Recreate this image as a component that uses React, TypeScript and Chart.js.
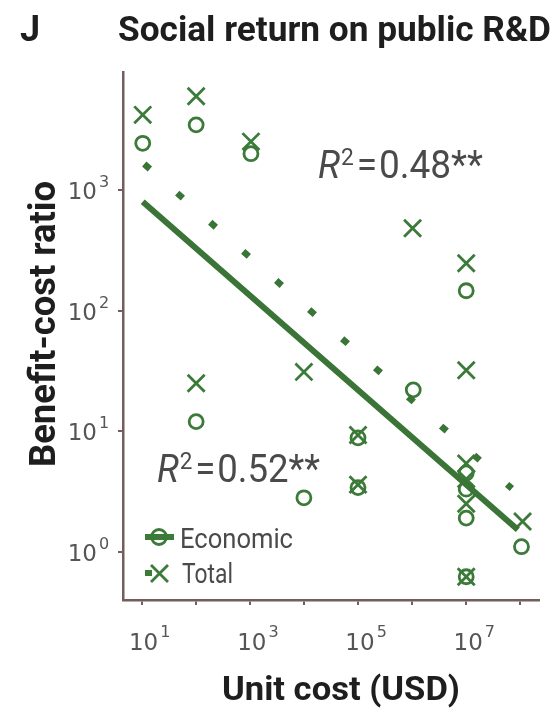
import React, { useEffect, useRef } from 'react';
import { Chart, registerables } from 'chart.js';

Chart.register(...registerables);

// ---- data ----
const economicX = [10.5, 102, 1050, 102, 1e4, 1e5, 1e5, 1.05e6, 1e7, 1e7, 1e7, 1e7, 1e7, 1.05e8];
const economicY = [2440, 3470, 2000, 12, 2.8, 8.8, 3.4, 22, 146, 4.5, 3.3, 1.9, 0.62, 1.1];
const totalX = [10.5, 102, 1050, 102, 1e4, 1e5, 1e5, 1.02e6, 1e7, 1e7, 1e7, 1e7, 1e7, 1e7, 1.1e8];
const totalY = [4200, 6000, 2520, 25, 31, 9.3, 3.6, 481, 247, 32, 5.4, 4.0, 2.5, 0.62, 1.78];
const economicFitX = [10.5, 9.0e7];
const economicFitY = [800, 1.52];
const totalFitX = [11.2, 6.98e7];
const totalFitY = [1643, 3.34];

const xTickExponents = [1, 2, 3, 4, 5, 6, 7, 8];
const xLabelExponents = [1, 3, 5, 7];
const yTickExponents = [0, 1, 2, 3];
const yLabelExponents = [0, 1, 2, 3];

const titleLetter = 'J';
const titleText = 'Social return on public R&D';
const xTitle = 'Unit cost (USD)';
const yTitle = 'Benefit-cost ratio';
const legendLabels = ['Economic', 'Total'];
const r2Total = '0.48';
const r2Economic = '0.52';

// ---- styling ----
const GREEN = '#3b7a38';
const LINE = '#3a7436';
const AXIS = '#735d5d';
const TICKTXT = '#555555';
const TXT = '#4a4a4a';

const X_MIN = Math.pow(10, 0.6564);
const X_MAX = Math.pow(10, 8.349);
const Y_MIN = Math.pow(10, -0.4006);
const Y_MAX = Math.pow(10, 3.9787);

type Run = { text: string; font: string; dy?: number; gap?: number };

function drawRuns(ctx: CanvasRenderingContext2D, runs: Run[], x: number, baseline: number, targetWidth?: number) {
  let total = 0;
  const widths: number[] = [];
  for (const r of runs) {
    ctx.font = r.font;
    const w = ctx.measureText(r.text).width;
    widths.push(w);
    total += w + (r.gap || 0);
  }
  const sx = targetWidth ? targetWidth / total : 1;
  ctx.save();
  ctx.translate(x, baseline);
  ctx.scale(sx, 1);
  ctx.textAlign = 'left';
  ctx.textBaseline = 'alphabetic';
  let cx = 0;
  runs.forEach((r, i) => {
    ctx.font = r.font;
    ctx.fillText(r.text, cx, r.dy || 0);
    cx += widths[i] + (r.gap || 0);
  });
  ctx.restore();
}

const annotations = {
  id: 'annotations',
  afterDraw(chart: any) {
    const ctx: CanvasRenderingContext2D = chart.ctx;
    const xs = chart.scales.x;
    const ys = chart.scales.y;
    const area = chart.chartArea;
    ctx.save();

    // y tick labels
    ctx.fillStyle = TICKTXT;
    for (const e of yLabelExponents) {
      const py = ys.getPixelForValue(Math.pow(10, e));
      ctx.textBaseline = 'alphabetic';
      ctx.font = '23px "DejaVu Sans"';
      ctx.textAlign = 'right';
      ctx.fillText('10', area.left - 26, py + 9);
      ctx.font = '16px "DejaVu Sans"';
      ctx.textAlign = 'left';
      ctx.fillText(String(e), area.left - 24, py - 3);
    }
    // x tick labels
    for (const e of xLabelExponents) {
      const px = xs.getPixelForValue(Math.pow(10, e));
      ctx.textBaseline = 'alphabetic';
      ctx.font = '23px "DejaVu Sans"';
      ctx.textAlign = 'center';
      ctx.fillText('10', px + 2, area.bottom + 50);
      const w = ctx.measureText('10').width;
      ctx.font = '16px "DejaVu Sans"';
      ctx.textAlign = 'left';
      ctx.fillText(String(e), px + 2 + w / 2 + 2, area.bottom + 37);
    }

    // titles
    ctx.fillStyle = '#1e1e1e';
    drawRuns(ctx, [{ text: titleLetter, font: 'bold 36px Roboto' }], 20, 41);
    drawRuns(ctx, [{ text: titleText, font: 'bold 35px Roboto' }], 118, 41, 433);
    drawRuns(ctx, [{ text: xTitle, font: 'bold 33px Roboto' }], 222, 700, 238);
    ctx.save();
    ctx.translate(55, 325 + 142);
    ctx.rotate(-Math.PI / 2);
    drawRuns(ctx, [{ text: yTitle, font: 'bold 37px Roboto' }], 0, 0, 286);
    ctx.restore();

    // R^2 annotations
    ctx.fillStyle = TXT;
    const r2 = (v: string): Run[] => [
      { text: 'R', font: 'italic 39px Roboto', gap: 1 },
      { text: '2', font: '24px Roboto', dy: -13, gap: 3 },
      { text: '=', font: '39px Roboto', gap: 2 },
      { text: v, font: '39px Roboto' },
      { text: '**', font: '39px Roboto' },
    ];
    drawRuns(ctx, r2(r2Total), 318, 178, 165);
    drawRuns(ctx, r2(r2Economic), 157, 482, 163);

    // legend
    ctx.fillStyle = TXT;
    drawRuns(ctx, [{ text: legendLabels[0], font: '28px Roboto' }], 180, 548, 113);
    drawRuns(ctx, [{ text: legendLabels[1], font: '28px Roboto' }], 182, 583, 51);
    ctx.strokeStyle = GREEN;
    ctx.lineWidth = 6;
    ctx.beginPath();
    ctx.moveTo(145, 537);
    ctx.lineTo(174, 537);
    ctx.stroke();
    ctx.lineWidth = 2.8;
    ctx.beginPath();
    ctx.arc(159, 537, 7.5, 0, Math.PI * 2);
    ctx.stroke();
    ctx.fillStyle = GREEN;
    ctx.fillRect(145, 570, 7, 6);
    ctx.beginPath();
    ctx.moveTo(151, 565);
    ctx.lineTo(168, 582);
    ctx.moveTo(168, 565);
    ctx.lineTo(151, 582);
    ctx.stroke();

    ctx.restore();
  },
};

export default function App() {
  const ref = useRef<HTMLCanvasElement>(null);
  useEffect(() => {
    document.body.style.margin = '0';
    const canvas = ref.current!;
    const axisCommon = {
      type: 'logarithmic' as const,
      bounds: 'data' as const,
      ticks: { display: false },
      grid: { display: true, drawOnChartArea: false, drawTicks: true, tickLength: 5, color: AXIS, lineWidth: 2 },
      border: { display: true, color: AXIS, width: 2.5 },
    };
    const chart = new Chart(canvas, {
      type: 'scatter',
      data: {
        datasets: [
          {
            label: 'Economic fit',
            data: economicFitX.map((x, i) => ({ x, y: economicFitY[i] })),
            showLine: true,
            borderColor: LINE,
            borderWidth: 6,
            pointRadius: 0,
            borderCapStyle: 'butt',
          },
          {
            label: 'Total fit',
            data: totalFitX.map((x, i) => ({ x, y: totalFitY[i] })),
            showLine: true,
            borderColor: LINE,
            borderWidth: 6.5,
            borderDash: [7.5, 36.5],
            pointRadius: 0,
            borderCapStyle: 'butt',
          },
          {
            label: 'Economic',
            data: economicX.map((x, i) => ({ x, y: economicY[i] })),
            pointStyle: 'circle',
            pointRadius: 7,
            pointBorderWidth: 2.8,
            borderColor: GREEN,
            backgroundColor: 'rgba(0,0,0,0)',
            showLine: false,
          },
          {
            label: 'Total',
            data: totalX.map((x, i) => ({ x, y: totalY[i] })),
            pointStyle: 'crossRot',
            pointRadius: 12,
            pointBorderWidth: 2.8,
            borderColor: GREEN,
            backgroundColor: GREEN,
            showLine: false,
          },
        ],
      },
      options: {
        responsive: false,
        animation: false,
        devicePixelRatio: 1,
        layout: { padding: { left: 118, top: 72, right: 12, bottom: 104 } },
        plugins: { legend: { display: false }, tooltip: { enabled: false } },
        scales: {
          x: {
            ...axisCommon,
            min: X_MIN,
            max: X_MAX,
            afterBuildTicks: (s: any) => {
              s.ticks = xTickExponents.map((e) => ({ value: Math.pow(10, e) }));
            },
          },
          y: {
            ...axisCommon,
            min: Y_MIN,
            max: Y_MAX,
            afterBuildTicks: (s: any) => {
              s.ticks = yTickExponents.map((e) => ({ value: Math.pow(10, e) }));
            },
          },
        },
      } as any,
      plugins: [annotations],
    });
    return () => chart.destroy();
  }, []);
  return (
    <div style={{ position: 'absolute', left: 0, top: 0, width: 554, height: 709, background: '#fff' }}>
      <canvas ref={ref} width={554} height={709} style={{ display: 'block' }} />
    </div>
  );
}
